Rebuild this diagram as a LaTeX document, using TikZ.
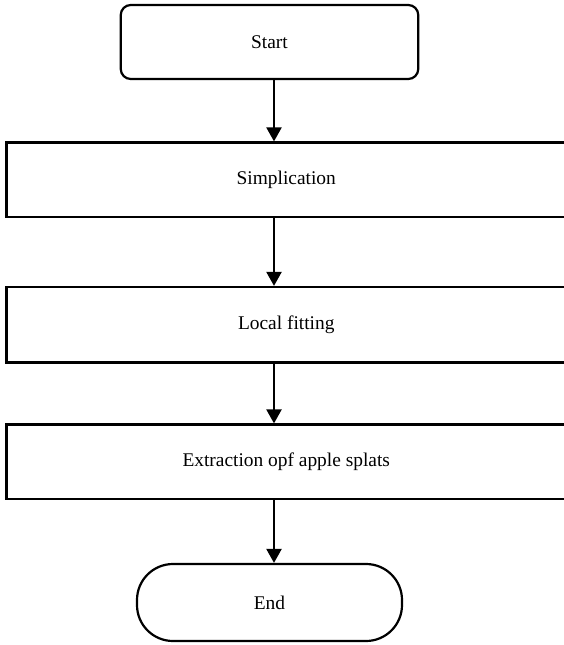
\documentclass[tikz,border=0pt]{standalone}
\usepackage{fontspec}
\setmainfont{Liberation Serif}
\usetikzlibrary{arrows.meta}
\begin{document}
\begin{tikzpicture}[x=1pt,y=-1pt,
  boxstyle/.style={draw=black, line width=2.2pt, fill=white, inner sep=0pt,
    font=\fontsize{19.4}{23}\selectfont},
  arr/.style={line width=2.2pt, -{Triangle[width=15pt,length=14pt]}}]
\useasboundingbox (0,0) rectangle (563,645);
\fill[white] (0,0) rectangle (563,645);
\node[boxstyle, rounded corners=10pt, minimum width=297.5pt, minimum height=74pt] (start) at (269.5,42) {Start};
\node[boxstyle, minimum width=559.5pt, minimum height=74.5pt] (simp) at (286.25,179.75) {Simplication};
\node[boxstyle, minimum width=559.5pt, minimum height=75.5pt] (local) at (286.25,324.75) {Local fitting};
\node[boxstyle, minimum width=559.5pt, minimum height=74.5pt] (extr) at (286.25,461.75) {Extraction opf apple splats};
\node[boxstyle, rounded corners=36pt, minimum width=265pt, minimum height=77pt] (end) at (269.5,602.5) {End};
\coordinate (ax) at (274,0);
\draw[arr] (start.south -| ax) -- (simp.north -| ax);
\draw[arr] (simp.south -| ax) -- (local.north -| ax);
\draw[arr] (local.south -| ax) -- (extr.north -| ax);
\draw[arr] (extr.south -| ax) -- (end.north -| ax);
\end{tikzpicture}
\end{document}
